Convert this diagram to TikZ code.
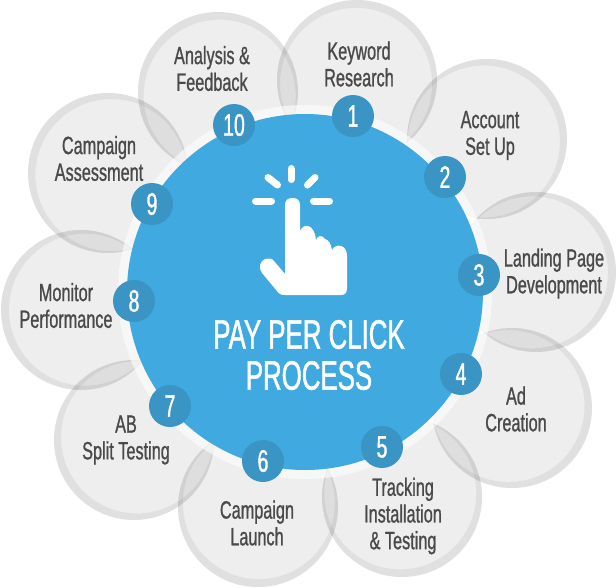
\documentclass[tikz,border=0pt]{standalone}
\usepackage{fontspec}
\usetikzlibrary{calc}
\setmainfont[FakeStretch=0.65,FakeBold=0.9]{Liberation Sans}
\newfontfamily\titlefont[FakeStretch=0.63,FakeBold=1.1]{Liberation Sans}
\definecolor{discblue}{HTML}{3FA9E0}
\definecolor{badgeblue}{HTML}{3A94C4}
\definecolor{labelgrey}{HTML}{4A4A4A}
\tikzset{
bubble/.style={circle, inner sep=0, fill=black, fill opacity=0.065, minimum size=160},
crescent/.style={fill=black, fill opacity=0.06, even odd rule},
badge/.style={circle, inner sep=0, fill=badgeblue, text=white, minimum size=42, font=\titlefont\fontsize{31}{31}\selectfont},
steplabel/.style={align=center, text=labelgrey, font=\fontsize{25}{26.7}\selectfont},
titlelabel/.style={align=center, text=white, font=\titlefont\fontsize{41}{41}\selectfont},
ray/.style={line cap=round, line width=7, white}
}
\begin{document}
\begin{tikzpicture}[x=1pt, y=-1pt]
\useasboundingbox (0,0) rectangle (616,587);
\coordinate (hub) at (305,292);
% bubbles
\foreach \i/\cx/\cy in {1/357/80, 2/487/139, 3/536/272, 4/512/408, 5/402/497, 6/258/507, 7/134/440, 8/81/310, 9/108/173, 10/218/92}{
  \node[bubble] (bubble\i) at (\cx,\cy) {};
  \coordinate (inner\i) at ($(bubble\i)!4pt!(hub)$);
  \fill[crescent] (bubble\i) circle [radius=80] (inner\i) circle [radius=76];
}
\node[circle, inner sep=0, fill=white, fill opacity=0.6, minimum size=374] (halo) at (hub) {};
\node[circle, inner sep=0, fill=discblue, minimum size=356] (disc) at (hub) {};
% badges
\foreach \i/\cx/\cy in {1/353/116, 2/445/177, 3/479/275, 4/461/374, 5/382/447, 6/263/461, 7/170/406, 8/134/301, 9/152/204, 10/234/125}{
  \node[badge] (badge\i) at (\cx,\cy) {\i};
}
% labels
\node[steplabel] (keyword) at (359,64) {Keyword\\Research};
\node[steplabel] (account) at (490,135.5) {Account\\Set Up};
\node[steplabel] (landing) at (554,273.5) {Landing Page\\Development};
\node[steplabel] (adcreation) at (516,409) {Ad\\Creation};
\node[steplabel] (tracking) at (403,516) {Tracking\\Installation\\\& Testing};
\node[steplabel] (launch) at (257,523) {Campaign\\Launch};
\node[steplabel] (split) at (126,440) {AB\\Split Testing};
\node[steplabel] (monitor) at (66,305.5) {Monitor\\Performance};
\node[steplabel] (assessment) at (99,158.5) {Campaign\\Assessment};
\node[steplabel] (analysis) at (212,68.5) {Analysis \&\\Feedback};
\node[titlelabel] (title) at (309,355) {PAY PER CLICK\\PROCESS};
% hand
\draw[ray] (291,168.5) -- (291,179.5);
\draw[ray] (268,177.5) -- (277.5,185);
\draw[ray] (315,177.5) -- (307.5,185);
\draw[ray] (255.5,201) -- (271.5,201);
\draw[ray] (313.5,201) -- (329.5,201);
\fill[white] (285,205) .. controls (285,200) and (288,198) .. (292.5,198)
  .. controls (297,198) and (300,200) .. (300,205) -- (300,232)
  .. controls (301,227) and (305,225) .. (308,226)
  .. controls (312,227) and (315,231) .. (316,240)
  .. controls (317,236) and (322,234) .. (325,239)
  .. controls (329,240) and (331,244) .. (332,250)
  .. controls (334,246) and (338,245) .. (341,246)
  .. controls (345,247) and (347,251) .. (347,256)
  -- (347,288) .. controls (347,293) and (345,295) .. (341,295)
  -- (285,295) .. controls (281,295) and (279,294) .. (277,291)
  -- (262,273) .. controls (258,268) and (260,261) .. (265,259)
  .. controls (268,258) and (272,258) .. (274,261)
  -- (285,274) -- cycle;
\end{tikzpicture}
\end{document}
